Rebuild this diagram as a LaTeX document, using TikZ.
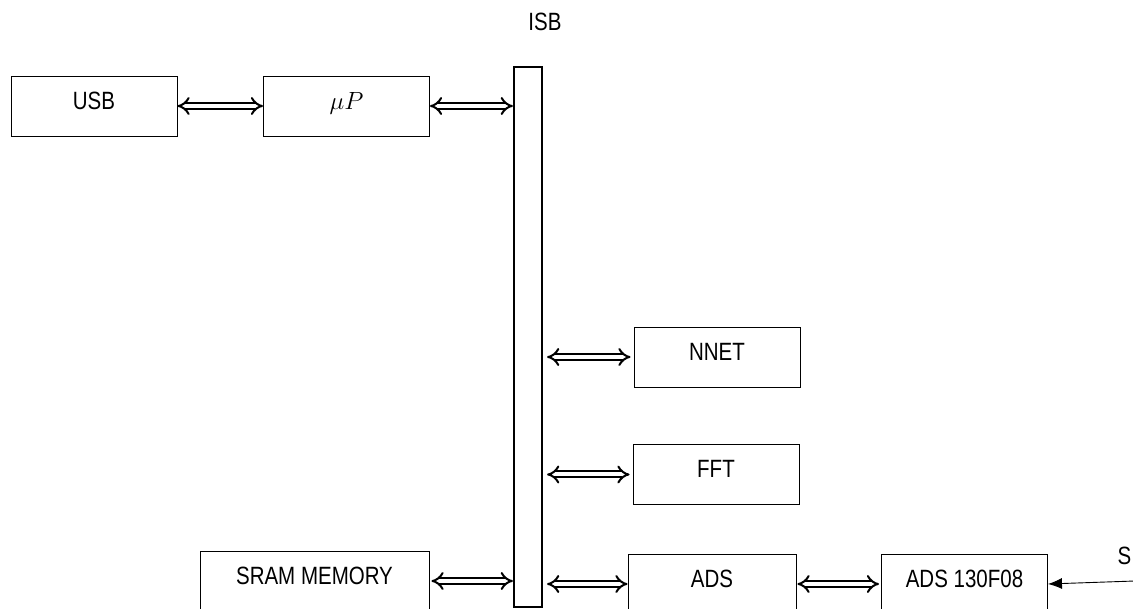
\documentclass[tikz,border=0pt]{standalone}
\usepackage{fontspec}
\setmainfont{Liberation Sans}[FakeStretch=0.82]
\usepackage{amsmath}
\usetikzlibrary{arrows.meta,positioning,calc}
\tikzstyle{block}=[draw,line width=0.9pt,minimum width=166pt,minimum height=60pt,inner sep=0pt,text height=18pt,text depth=11pt]
\tikzstyle{busbar}=[draw,line width=2.2pt,minimum width=28pt,minimum height=540pt,inner sep=0pt]
\tikzstyle{link}=[double,double distance=4pt,line width=2pt,{Implies[length=9pt,width=21pt]}-{Implies[length=9pt,width=21pt]}]

\begin{document}
\begin{tikzpicture}[x=1pt,y=-1pt,font=\fontsize{25}{28}\selectfont]
\useasboundingbox (0,0) rectangle (1133,609);
\clip (0,0) rectangle (1133,609);
\node [busbar] (isb) at (528,337) {};
\node (isblabel) at (545,22) {ISB};
\node [block] (usb) at (94,106) {USB};
\node [block,font=\fontsize{28}{30}\selectfont] (up) at (346.5,106) {$\mu P$};
\node [block] (nnet) at (717,357) {NNET};
\node [block] (fft) at (716,474.5) {FFT};
\node [block,minimum width=229pt] (sram) at (314.5,581) {SRAM MEMORY};
\node [block,minimum width=168pt] (ads) at (712,584) {ADS};
\node [block] (adc) at (964.5,584) {ADS 130F08};
\coordinate (sig) at (1135,581);
\node [anchor=west] (s) at (1114,556) {S};
% links to the bus
\draw [link] (usb.east) -- (up.west);
\draw [link] (up.east) -- (up.east -| isb.west);
\draw [link] ([xshift=4pt]isb.east |- nnet.west) -- ([xshift=-3pt]nnet.west);
\draw [link] ([xshift=4pt]isb.east |- fft.west) -- ([xshift=-3pt]fft.west);
\draw [link] ([xshift=2pt]sram.east) -- (sram.east -| isb.west);
\draw [link] ([xshift=4pt]isb.east |- ads.west) -- (ads.west);
\draw [link] ([xshift=1pt]ads.east) -- ([xshift=-2pt]adc.west);
\draw [-{Latex[length=14pt,width=11pt]},line width=0.9pt] (sig) -- (adc.east);
\end{tikzpicture}
\end{document}
